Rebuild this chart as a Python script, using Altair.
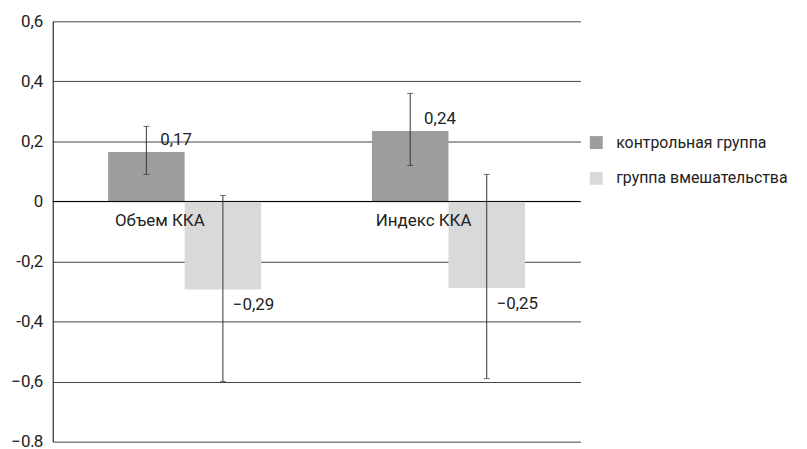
import altair as alt
import pandas as pd

groups = ["Объем ККА", "Индекс ККА"]
series = ["контрольная группа", "группа вмешательства"]
colors = ["#9d9d9d", "#d9d9d9"]

control_vals = [0.165, 0.235]
interv_vals = [-0.293, -0.288]
control_lo = [0.09, 0.12]
control_hi = [0.25, 0.36]
interv_lo = [-0.60, -0.59]
interv_hi = [0.02, 0.09]
control_labels = ["0,17", "0,24"]
interv_labels = ["−0,29", "−0,25"]

y_ticks = [-0.8, -0.6, -0.4, -0.2, 0, 0.2, 0.4, 0.6]
y_tick_labels = ["−0,8", "−0,6", "-0,4", "-0,2", "0", "0,2", "0,4", "0,6"]

rows = []
for i, g in enumerate(groups):
    rows.append(dict(group=g, series=series[0], value=control_vals[i], lo=control_lo[i],
                     hi=control_hi[i], label=control_labels[i]))
    rows.append(dict(group=g, series=series[1], value=interv_vals[i], lo=interv_lo[i],
                     hi=interv_hi[i], label=interv_labels[i]))
df = pd.DataFrame(rows)

FONT = "Roboto"
TXT = "#222222"
label_expr = "[" + ",".join("'" + s + "'" for s in y_tick_labels) + "][round((datum.value + 0.8) / 0.2)]"

x_enc = alt.X("group:N", sort=groups, scale=alt.Scale(paddingInner=0, paddingOuter=0), axis=None)
xo_enc = alt.XOffset("series:N", sort=series, scale=alt.Scale(paddingInner=0, paddingOuter=0.724))
y_scale = alt.Scale(domain=[-0.8, 0.6], nice=False, zero=False)

base = alt.Chart(df)

bars = base.mark_bar().encode(
    x=x_enc,
    xOffset=xo_enc,
    y=alt.Y("value:Q", scale=y_scale, title=None,
            axis=alt.Axis(values=y_ticks, labelExpr=label_expr, grid=True, gridColor="#444444",
                          gridWidth=1, ticks=False, domain=True, domainColor="#000000",
                          labelFont=FONT, labelFontSize=17, labelColor=TXT,
                          labelPadding=10)),
    y2=alt.datum(0),
    color=alt.Color("series:N", sort=series, scale=alt.Scale(domain=series, range=colors),
                    legend=alt.Legend(title=None, orient="none", legendX=539, legendY=114,
                                      symbolType="square", symbolSize=169, symbolStrokeWidth=0,
                                      labelFont=FONT, labelFontSize=16, labelColor=TXT,
                                      labelOffset=12, rowPadding=20, labelLimit=400)),
)

zero_rule = alt.Chart(pd.DataFrame({"z": [0]})).mark_rule(color="#000000", strokeWidth=1).encode(
    y=alt.Y("z:Q", scale=y_scale)
)

err = base.mark_rule(color="#333333", strokeWidth=1).encode(
    x=x_enc, xOffset=xo_enc, y=alt.Y("lo:Q", scale=y_scale), y2="hi:Q"
)
cap_lo = base.mark_tick(color="#333333", thickness=1, size=6, orient="horizontal").encode(
    x=x_enc, xOffset=xo_enc, y=alt.Y("lo:Q", scale=y_scale)
)
cap_hi = base.mark_tick(color="#333333", thickness=1, size=6, orient="horizontal").encode(
    x=x_enc, xOffset=xo_enc, y=alt.Y("hi:Q", scale=y_scale)
)

lab_pos = base.transform_filter("datum.value >= 0").mark_text(
    align="left", baseline="bottom", dx=14, dy=-3, font=FONT, fontSize=17, color=TXT
).encode(x=x_enc, xOffset=xo_enc, y=alt.Y("value:Q", scale=y_scale), text="label:N")

lab_neg = base.transform_filter("datum.value < 0").mark_text(
    align="left", baseline="top", dx=10, dy=8, font=FONT, fontSize=17, color=TXT
).encode(x=x_enc, xOffset=xo_enc, y=alt.Y("value:Q", scale=y_scale), text="label:N")

cat_labels = alt.Chart(pd.DataFrame({"group": groups})).mark_text(
    align="center", baseline="top", dx=-25, dy=12, font=FONT, fontSize=17, color=TXT
).encode(x=x_enc, y=alt.datum(0), text="group:N")

chart = alt.layer(bars, zero_rule, err, cap_lo, cap_hi, lab_pos, lab_neg, cat_labels).properties(
    width=531, height=423,
    autosize=alt.AutoSizeParams(type="none"),
    padding={"left": 45, "top": 12, "right": 220, "bottom": 4},
).configure_view(stroke=None).configure_axis(labelFont=FONT)

chart.save("out.html", embed_options={"renderer": "svg", "actions": False})
